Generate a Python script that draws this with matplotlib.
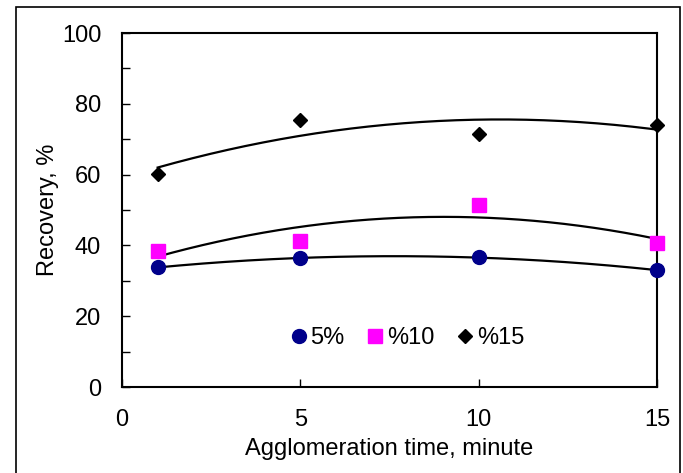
import matplotlib
matplotlib.use("Agg")
import matplotlib.pyplot as plt
import numpy as np
from matplotlib.patches import Rectangle

plt.rcParams["font.family"] = ["Liberation Sans", "DejaVu Sans"]

time_min = [1, 5, 10, 15]  # 응집 시간
rec_5 = [33.8, 36.4, 36.6, 33.0]
rec_10 = [38.4, 41.3, 51.4, 40.7]
rec_15 = [60.2, 75.5, 71.5, 74.0]

labels = ["5%", "%10", "%15"]
series = [rec_5, rec_10, rec_15]
styles = [
    dict(marker="o", color="#00008b", markersize=10),
    dict(marker="s", color="#ff00ff", markersize=9.5),
    dict(marker="D", color="black", markersize=7.5),
]

fig = plt.figure(figsize=(6.83, 4.73), dpi=100)
ax = fig.add_axes([0.1786, 0.1818, 0.7834, 0.7484])

# 2차 추세선
xs = np.linspace(time_min[0], time_min[-1], 200)
for vals in series:
    c = np.polyfit(time_min, vals, 2)
    ax.plot(xs, np.polyval(c, xs), color="black", lw=1.6, zorder=2)

for vals, lab, st in zip(series, labels, styles):
    ax.plot(time_min, vals, linestyle="none", label=lab, zorder=3,
            clip_on=False, **st)

ax.set_xlim(0, 15)
ax.set_ylim(0, 100)
ax.set_xticks([0, 5, 10, 15])
ax.set_yticks(range(0, 101, 20))
ax.set_yticks(range(10, 100, 20), minor=True)
ax.tick_params(direction="in", labelsize=17, length=6, width=1, pad=15)
ax.tick_params(which="minor", direction="in", length=6, width=1)
ax.tick_params(axis="x", pad=16)
for s in ax.spines.values():
    s.set_linewidth(1.5)

ax.set_xlabel("Agglomeration time, minute", fontsize=17, labelpad=5)
ax.set_ylabel("Recovery, %", fontsize=17, labelpad=2)

ax.legend(loc="center", bbox_to_anchor=(0.53, 0.138), ncol=3, frameon=False,
          fontsize=17, handletextpad=0.0, columnspacing=0.8, handlelength=1.0)

fig.patches.append(Rectangle((0.0234, -0.02), 0.9722, 1.005, transform=fig.transFigure,
                             fill=False, edgecolor="black", lw=1.2))

fig.savefig("out.png", dpi=100)
